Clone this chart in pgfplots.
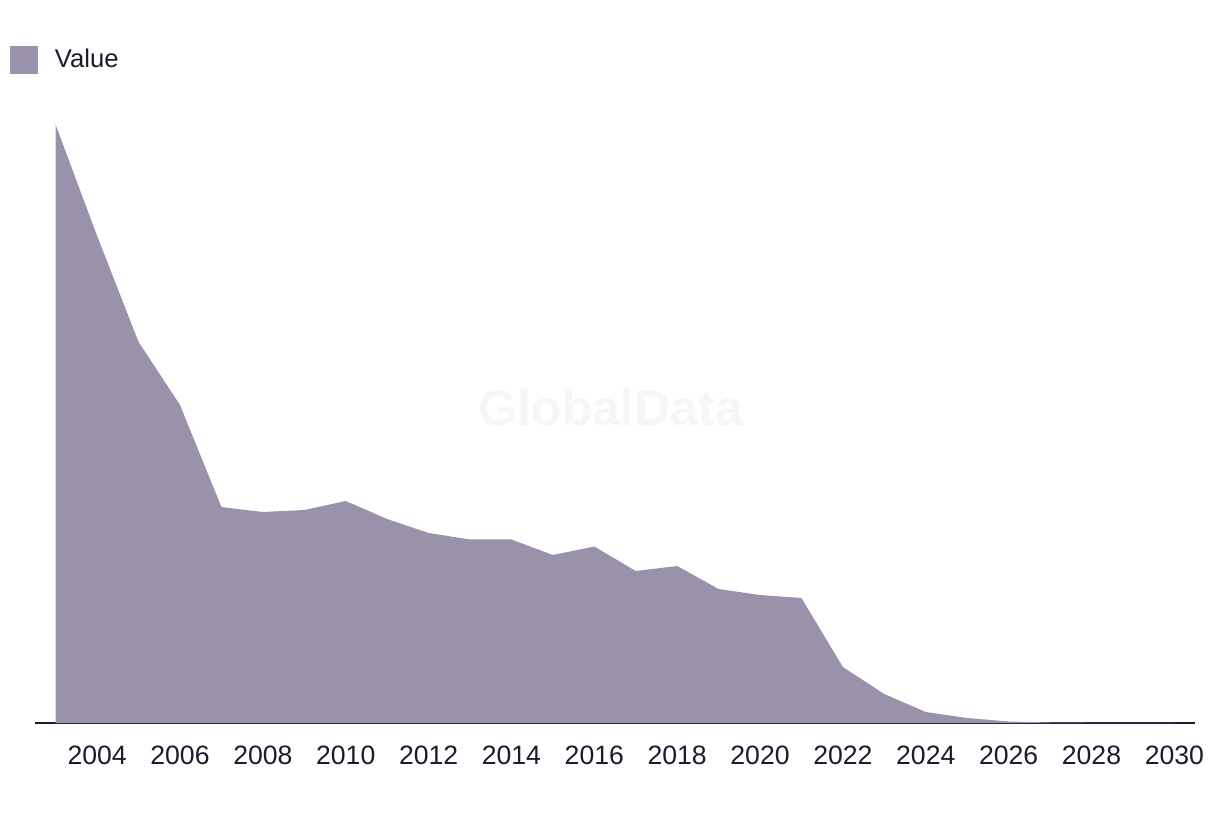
\documentclass[border=0pt]{standalone}
\usepackage{fontspec}
\setmainfont{Liberation Sans}
\usepackage{pgfplots}
\pgfplotsset{compat=1.18}
\definecolor{areaPurple}{HTML}{9A91AB}
\definecolor{inkNavy}{HTML}{1B1A2E}
\definecolor{markGray}{HTML}{F6F6F6}

\begin{document}
\begin{tikzpicture}
\path[use as bounding box] (0,0) rectangle (610pt,407pt);
\begin{axis}[
    at={(17.5pt,45.5pt)}, anchor=south west,
    scale only axis,
    width=580pt, height=310pt,
    xmin=2002.5, xmax=2030.5,
    ymin=0, ymax=620,
    axis x line=bottom,
    axis y line=none,
    axis line style={draw=inkNavy, line width=0.8pt, -},
    xtick={2004,2006,...,2030},
    major tick length=0pt,
    /pgf/number format/1000 sep={},
    /pgf/number format/assume math mode=true,
    xticklabel style={font=\fontsize{13.3}{15}\selectfont, text=inkNavy, yshift=-8pt},
    clip=false,
    legend style={at={(rel axis cs:-0.0216,1.092)}, anchor=north west, draw=none,
        fill=none, inner sep=0pt, outer sep=0pt,
        font=\fontsize{12.8}{14}\selectfont, text=inkNavy,
        nodes={inner sep=0pt}},
    legend image code/.code={\fill[areaPurple] (0pt,-7pt) rectangle (14pt,7pt);},
    legend cell align=left,
]
\node[font=\bfseries\fontsize{25}{28}\selectfont, text=markGray] at (axis cs:2016.4,315) {GlobalData};
\addplot[fill=areaPurple, draw=none] coordinates {
    (2003,598) (2004,487) (2005,381) (2006,318) (2007,216) (2008,211)
    (2009,213) (2010,222) (2011,204) (2012,190) (2013,183.5) (2014,183.5)
    (2015,168) (2016,176.5) (2017,152) (2018,157) (2019,134) (2020,128)
    (2021,125) (2022,56) (2023,29) (2024,11) (2025,5) (2026,1.5)
    (2027,0.5) (2028,0.2) (2029,0.1) (2030,0.05)
} \closedcycle;
\addlegendentry{\hspace{8.5pt}Value}
\end{axis}
\end{tikzpicture}
\end{document}
